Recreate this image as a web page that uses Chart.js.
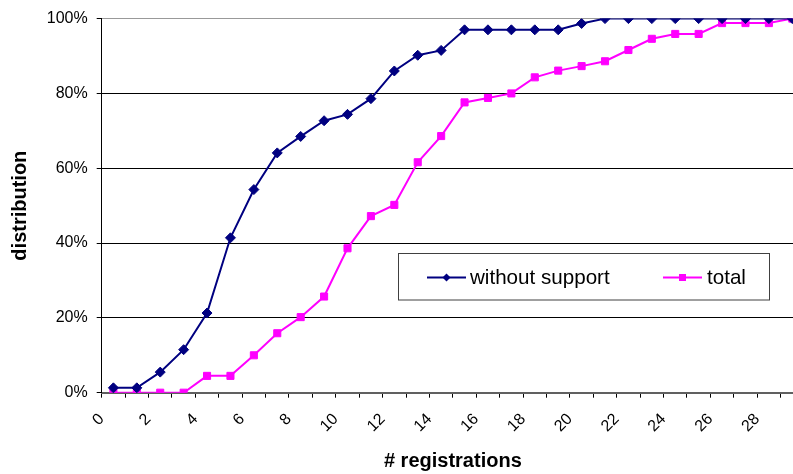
<!DOCTYPE html>
<html><head><meta charset="utf-8">
<script src="https://cdn.jsdelivr.net/npm/chart.js@4"></script>
<style>html,body{margin:0;padding:0;overflow:hidden;background:#fff}#wrap{width:810px;height:474px}</style>
</head><body><div id="wrap"><canvas id="c" width="810" height="474"></canvas></div>
<script>
const registrations = [0.5,1.5,2.5,3.5,4.5,5.5,6.5,7.5,8.5,9.5,10.5,11.5,12.5,13.5,14.5,15.5,16.5,17.5,18.5,19.5,20.5,21.5,22.5,23.5,24.5,25.5,26.5,27.5,28.5,29.5];
const withoutSupport = [1.3,1.3,5.5,11.5,21.3,41.4,54.3,64.1,68.5,72.7,74.4,78.6,86.0,90.2,91.5,97.0,97.0,97.0,97.0,97.0,98.7,100,100,100,100,100,100,100,100,100];
const total = [0,0,0,0,4.5,4.5,10.0,15.9,20.2,25.7,38.6,47.2,50.2,61.6,68.6,77.6,78.8,80.0,84.3,86.1,87.3,88.6,91.6,94.6,95.9,95.9,98.8,98.8,98.8,100];
const xTickLabels = [0,2,4,6,8,10,12,14,16,18,20,22,24,26,28];
const seriesNames = ['without support','total'];

Chart.defaults.font.family = "'Liberation Sans', Arial, sans-serif";
Chart.defaults.color = '#000';

const legendBox = {
  id: 'legendBox',
  afterDraw(chart) {
    const ctx = chart.ctx;
    ctx.save();
    ctx.fillStyle = '#fff';
    ctx.fillRect(398.5, 253.5, 371, 46.5);
    ctx.strokeStyle = '#404040';
    ctx.lineWidth = 1;
    ctx.strokeRect(398.5, 253.5, 371, 46.5);
    const items = [{x: 427, tx: 470}, {x: 663, tx: 707}];
    const y = 277.5;
    chart.data.datasets.forEach((ds, i) => {
      const it = items[i];
      ctx.strokeStyle = ds.borderColor;
      ctx.lineWidth = 2;
      ctx.beginPath(); ctx.moveTo(it.x, y); ctx.lineTo(it.x + 39, y); ctx.stroke();
      const cx = it.x + 19.5;
      ctx.fillStyle = ds.backgroundColor;
      ctx.beginPath();
      if (ds.pointStyle === 'rectRot') {
        ctx.moveTo(cx, y - 4); ctx.lineTo(cx + 4, y); ctx.lineTo(cx, y + 4); ctx.lineTo(cx - 4, y); ctx.closePath();
      } else {
        ctx.rect(cx - 3.5, y - 3.5, 7, 7);
      }
      ctx.fill();
      ctx.fillStyle = '#000';
      ctx.font = "20.6px 'Liberation Sans', Arial, sans-serif";
      ctx.textBaseline = 'middle';
      ctx.textAlign = 'left';
      ctx.fillText(ds.label, it.tx, y + 1);
    });
    ctx.restore();
  }
};

new Chart(document.getElementById('c'), {
  type: 'line',
  data: {
    datasets: [
      {
        label: seriesNames[0],
        data: registrations.map((x, i) => ({x, y: withoutSupport[i]})),
        borderColor: '#000080', backgroundColor: '#000080',
        borderWidth: 2, pointStyle: 'rectRot', pointRadius: 5, pointBorderWidth: 1,
        tension: 0
      },
      {
        label: seriesNames[1],
        data: registrations.map((x, i) => ({x, y: total[i]})),
        borderColor: '#FF00FF', backgroundColor: '#FF00FF',
        borderWidth: 2, pointStyle: 'rect', pointRadius: 5, pointBorderWidth: 1,
        tension: 0
      }
    ]
  },
  options: {
    responsive: false,
    animation: false,
    layout: {padding: {top: 18, left: 0, right: 0, bottom: 0}},
    plugins: {legend: {display: false}, tooltip: {enabled: false}},
    scales: {
      x: {
        type: 'linear', min: 0, max: 30,
        ticks: {
          stepSize: 1, autoSkip: false, minRotation: 45, maxRotation: 45,
          padding: 12,
          font: {size: 16},
          callback: v => xTickLabels.includes(v) ? String(v) : ''
        },
        grid: {drawOnChartArea: false, drawTicks: true, tickLength: 5, tickColor: '#000'},
        border: {display: true, color: '#606060', width: 2},
        title: {display: true, text: '# registrations', font: {size: 20, weight: 'bold'}, padding: {top: 0, bottom: 1}},
        afterFit: s => { s.height = 81.3; s.paddingLeft = 0; s.paddingRight = 0; }
      },
      y: {
        min: 0, max: 100,
        ticks: {stepSize: 20, padding: 9, font: {size: 16}, callback: v => v + '%'},
        grid: {
          color: c => c.tick.value === 0 ? 'rgba(0,0,0,0)' : (c.tick.value === 100 ? '#999' : '#000'),
          tickColor: '#000', tickLength: 5, lineWidth: 1
        },
        border: {display: true, color: '#000', width: 1},
        title: {display: true, text: 'distribution', font: {size: 20, weight: 'bold'}, padding: {top: 8, bottom: 9}},
        afterFit: s => { s.width = 101.7; }
      }
    }
  },
  plugins: [legendBox]
});
</script>
</body></html>
